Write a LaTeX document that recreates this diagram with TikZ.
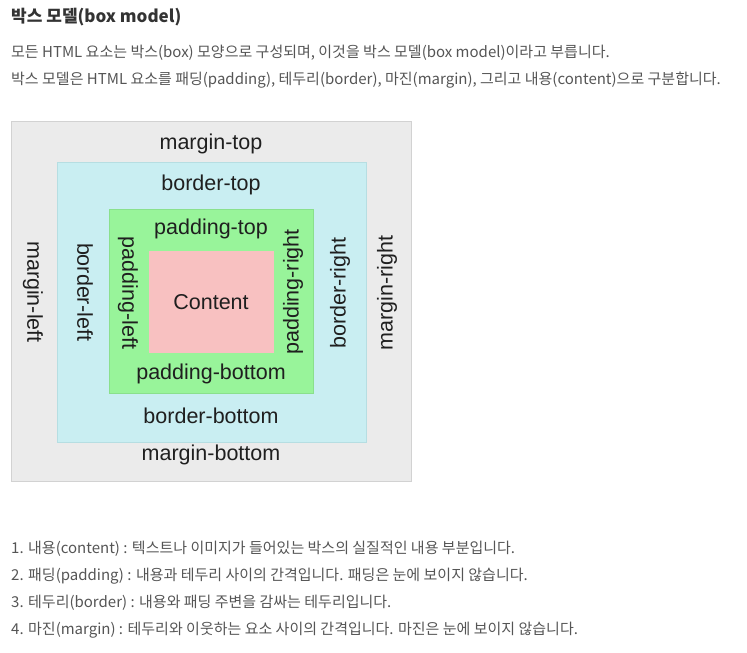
\documentclass[tikz,border=0pt]{standalone}
\usepackage{fontspec}
\setmainfont{Liberation Sans}
\newfontfamily\kofont{Noto Sans CJK KR}
\definecolor{margingray}{HTML}{EBEBEB}
\definecolor{marginline}{HTML}{D2D2D2}
\definecolor{bordercyan}{HTML}{C9EEF2}
\definecolor{borderline}{HTML}{B6DEE2}
\definecolor{padgreen}{HTML}{98F49A}
\definecolor{padline}{HTML}{8AE08C}
\definecolor{contentpink}{HTML}{F8C1C1}
\definecolor{bodytext}{HTML}{555555}
\tikzset{
	layer/.style={draw, inner sep=0pt, line width=0.6pt},
	lbl/.style={font=\fontsize{21.5}{25}\selectfont, text=black!88, inner sep=0pt},
	body/.style={anchor=west, font=\kofont\fontsize{15}{18}\selectfont, text=bodytext, inner sep=0pt},
}
\begin{document}
\begin{tikzpicture}[x=1pt, y=-1pt]
	\useasboundingbox (0, 0) rectangle (747, 653);
	
	% heading and intro
	\node[body, font=\kofont\bfseries\fontsize{17}{20}\selectfont, text=black!80] (title) at (11, 17) {박스 모델(box model)};
	\node[body] (intro1) at (11, 53) {모든 HTML 요소는 박스(box) 모양으로 구성되며, 이것을 박스 모델(box model)이라고 부릅니다.};
	\node[body] (intro2) at (11, 80) {박스 모델은 HTML 요소를 패딩(padding), 테두리(border), 마진(margin), 그리고 내용(content)으로 구분합니다.};
	
	% the boxes
	\node[layer, fill=margingray, draw=marginline, minimum width=400pt, minimum height=360pt] (margin) at (211, 301) {};
	\node[layer, fill=bordercyan, draw=borderline, minimum width=309pt, minimum height=280pt] (border) at (211.5, 302) {};
	\node[layer, fill=padgreen, draw=padline, minimum width=204pt, minimum height=184pt] (padding) at (211, 301) {};
	\node[layer, fill=contentpink, draw=contentpink, minimum width=124pt, minimum height=101pt] (content) at (211, 301.5) {};
	
	\node[lbl] (ctext) at (211, 302) {Content};
	
	\node[lbl] (mtop) at (211, 144) {margin-top};
	\node[lbl] (btop) at (211, 185) {border-top};
	\node[lbl] (ptop) at (211, 229) {padding-top};
	\node[lbl] (pbottom) at (211, 374) {padding-bottom};
	\node[lbl] (bbottom) at (211, 416) {border-bottom};
	\node[lbl] (mbottom) at (211, 455) {margin-bottom};
	
	\node[lbl, rotate=-90] (mleft) at (33, 292) {margin-left};
	\node[lbl, rotate=-90] (bleft) at (85, 292) {border-left};
	\node[lbl, rotate=-90] (pleft) at (128, 293) {padding-left};
	\node[lbl, rotate=90] (pright) at (293, 292) {padding-right};
	\node[lbl, rotate=90] (bright) at (340, 293) {border-right};
	\node[lbl, rotate=90] (mright) at (387, 293) {margin-right};
	
	% the list
	\node[body] (item1) at (11, 549) {1. 내용(content) : 텍스트나 이미지가 들어있는 박스의 실질적인 내용 부분입니다.};
	\node[body] (item2) at (11, 576) {2. 패딩(padding) : 내용과 테두리 사이의 간격입니다. 패딩은 눈에 보이지 않습니다.};
	\node[body] (item3) at (11, 603) {3. 테두리(border) : 내용와 패딩 주변을 감싸는 테두리입니다.};
	\node[body] (item4) at (11, 630) {4. 마진(margin) : 테두리와 이웃하는 요소 사이의 간격입니다. 마진은 눈에 보이지 않습니다.};
\end{tikzpicture}
\end{document}
